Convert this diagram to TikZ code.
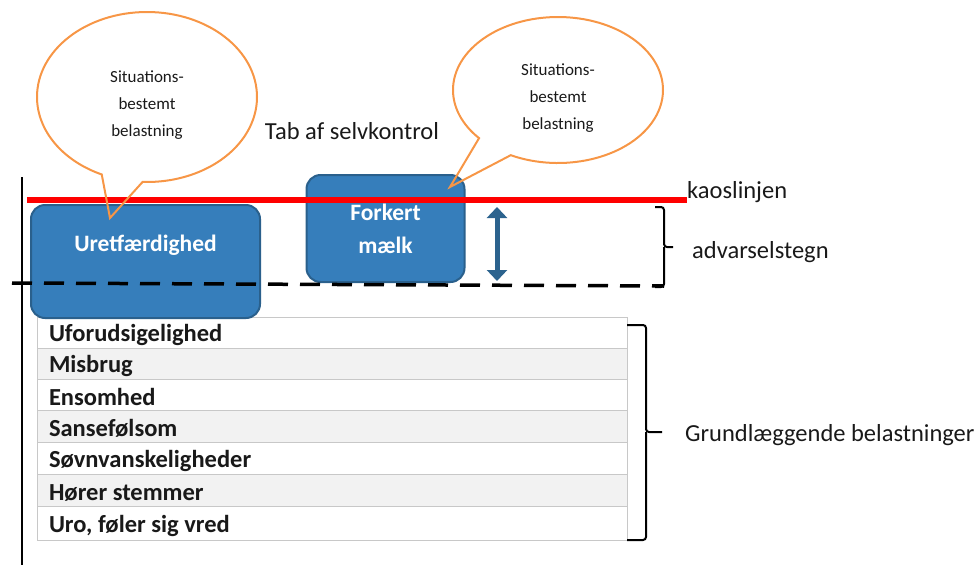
\documentclass[tikz,border=0pt]{standalone}
\usepackage{fontspec}
\setmainfont{Carlito}
\usetikzlibrary{
    shapes,
    shapes.callouts,
    arrows.meta,
    calc,
    positioning
}
\definecolor{boxblue}{RGB}{54,126,187}
\definecolor{boxedge}{RGB}{42,96,140}
\definecolor{arrowblue}{RGB}{44,99,142}
\definecolor{bubbleorange}{RGB}{247,150,70}
\definecolor{rowgray}{RGB}{242,242,242}
\definecolor{rowline}{RGB}{200,200,200}
\definecolor{chaosred}{RGB}{255,0,0}
\definecolor{inkgray}{RGB}{25,25,25}

\newcommand{\bubbletext}{\raisebox{-8pt}[\height][\depth]{\parbox{120pt}{\centering
    Situations-\\bestemt\\belastning}}}

\tikzset{
    stressbox/.style={rounded corners=14pt, fill=boxblue, draw=boxedge, line width=2pt,
        text=white, font=\bfseries\fontsize{23.5}{33}\selectfont, align=center},
    bubble/.style={ellipse callout, draw=bubbleorange, line width=2pt,
        text=inkgray, font=\fontsize{17}{27}\selectfont, inner sep=0pt},
    rowcell/.style={draw=rowline, line width=1pt, text width=566pt, inner xsep=12pt,
        inner ysep=0pt, align=flush left, text=inkgray, font=\bfseries\fontsize{24.5}{28}\selectfont},
    plainlabel/.style={text=inkgray, font=\fontsize{24.5}{28}\selectfont, inner sep=0pt},
    bracket/.style={line width=2pt, rounded corners=3pt}
}

\begin{document}
\begin{tikzpicture}[x=1pt, y=-1pt]
\useasboundingbox (0,0) rectangle (980,565);

% axis
\coordinate (axtop) at (22,177);
\coordinate (axbot) at (22,565);
\draw[line width=2pt] (axtop) -- (axbot);

% basic loads
\foreach \txt/\yc/\rowh/\shade [count=\i] in {
    Uforudsigelighed/332.5/31/white,
    Misbrug/363.5/31/rowgray,
    Ensomhed/394.5/31/white,
    Sansefølsom/426/32/rowgray,
    Søvnvanskeligheder/458/32/white,
    Hører stemmer/490/32/rowgray,
    {Uro, føler sig vred}/523/34/white}
    \node[rowcell, fill=\shade, minimum height=\rowh pt] (row\i) at (332,\yc)
        {\raisebox{-2.5pt}[\height][\depth]{\txt}};

% labels
\node[plainlabel] (tab) at (352,131) {Tab af selvkontrol};
\node[plainlabel, anchor=west] (kaos) at (687,192) {kaoslinjen};
\node[plainlabel, anchor=west] (warn) at (692,252) {advarselstegn};
\node[plainlabel, anchor=west] (basic) at (685,435) {Grundlæggende belastninger};

% events
\node[stressbox, minimum width=229pt, minimum height=113pt] (unfair) at (145.5,261.5)
    {\raisebox{16pt}[\height][\depth]{Uretfærdighed}};
\node[stressbox, minimum width=158pt, minimum height=107pt] (milk) at (385.5,228.5) {Forkert\\mælk};

% chaos line and warning zone
\coordinate (chaosstart) at (27,200);
\draw[chaosred, line width=6pt] (chaosstart) -- (kaos.west |- chaosstart);
\coordinate (warnleft) at (12,283);
\coordinate (warnright) at (664,286);
\draw[line width=3.5pt, dash pattern=on 20pt off 12pt] (warnleft) -- (warnright);
\coordinate (warntop) at (497,207);
\coordinate (warnbot) at (497,281);
\draw[arrowblue, line width=5pt, {Triangle[width=20pt,length=11pt]}-{Triangle[width=20pt,length=11pt]}] (warntop) -- (warnbot);

% brackets
\coordinate (bwarn) at (655,207);
\draw[bracket] (bwarn) -- ++(9,0) -- ++(0,40) -- ++(9,0);
\draw[bracket] (655,287) -- ++(9,0) -- ++(0,-40);
\coordinate (bbasic) at (627,325);
\draw[bracket] (bbasic) -- ++(19,0) -- ++(0,107) -- ++(16,0);
\draw[bracket] (627,540) -- ++(19,0) -- ++(0,-108);

% bubbles
\node[bubble, minimum width=220pt, minimum height=170pt, callout pointer arc=22,
    callout absolute pointer={(110,218)}] (bubbleA) at (147,97) {\bubbletext};
\node[bubble, minimum width=210pt, minimum height=146pt, callout pointer arc=22,
    callout absolute pointer={(450,187)}] (bubbleB) at (558,90) {\bubbletext};
\end{tikzpicture}
\end{document}
